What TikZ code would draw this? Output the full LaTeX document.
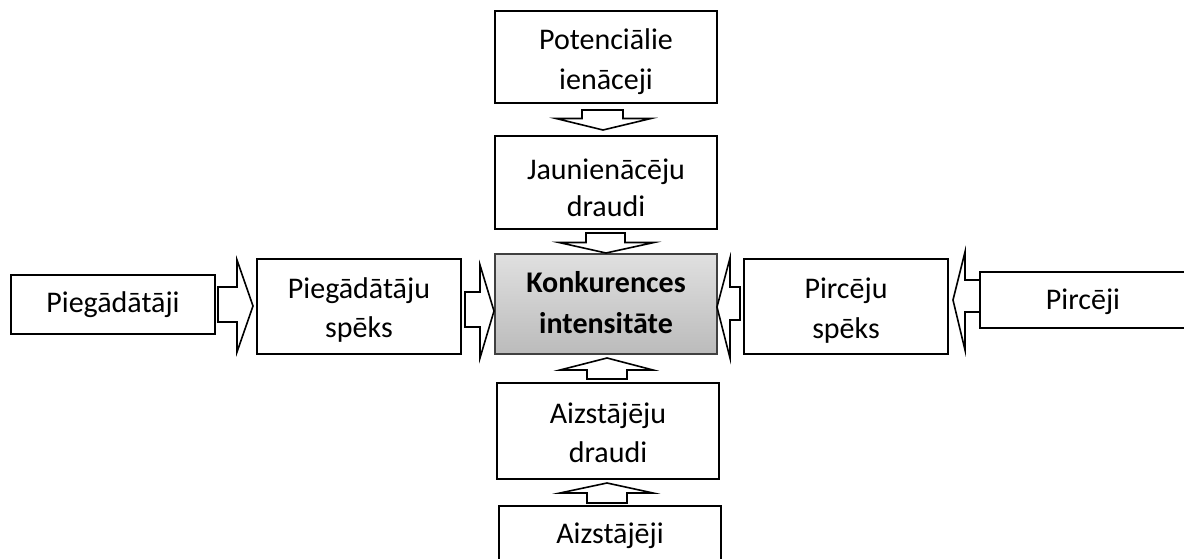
\documentclass[tikz,border=0pt]{standalone}
\usepackage{fontspec}
\setmainfont{Carlito}
\definecolor{ctop}{HTML}{E0E0E0}
\definecolor{cbot}{HTML}{BBBBBB}
\begin{document}
\begin{tikzpicture}[x=1pt,y=-1pt,
  box/.style={draw=black, line width=2.2pt, fill=white, rectangle, inner sep=0pt},
  blockarrow/.style={draw=black, line width=1.6pt, fill=white, line join=miter},
  txt/.style={anchor=base, inner sep=0pt, font=\fontsize{30}{40}\selectfont},
  btxt/.style={txt, font=\fontsize{30}{40}\selectfont\bfseries}]
\useasboundingbox (0,0) rectangle (1184,559);
\clip (0,0) rectangle (1184,559);
% boxes
\node[box, minimum width=222pt, minimum height=92pt] (pot) at (606,57) {};
\node[box, minimum width=222pt, minimum height=93pt] (jau) at (606,182.5) {};
\node[box, minimum width=222pt, minimum height=100pt, draw=black!75, line width=1.3pt, top color=ctop, bottom color=cbot] (kon) at (606,304) {};
\node[box, minimum width=204pt, minimum height=59pt] (pie) at (113,304.5) {};
\node[box, minimum width=204pt, minimum height=95pt] (pies) at (359,306.5) {};
\node[box, minimum width=204pt, minimum height=95pt] (pirs) at (846,306.5) {};
\node[box, minimum width=210pt, minimum height=56pt] (pir) at (1085,300) {};
\node[box, minimum width=222pt, minimum height=96pt] (aizd) at (608,431) {};
\node[box, minimum width=222pt, minimum height=74pt] (aiz) at (610,543) {};
% texts
\node[txt] (potA) at (606,50) {Potenciālie};
\node[txt] (potB) at (606,90) {ienāceji};
\node[txt] (jauA) at (606,179) {Jaunienācēju};
\node[txt] (jauB) at (606,216) {draudi};
\node[btxt] (konA) at (606,292) {Konkurences};
\node[btxt] (konB) at (606,333) {intensitāte};
\node[txt] (pieA) at (113,312) {Piegādātāji};
\node[txt] (piesA) at (359,298) {Piegādātāju};
\node[txt] (piesB) at (359,337) {spēks};
\node[txt] (pirsA) at (846,298) {Pircēju};
\node[txt] (pirsB) at (846,338) {spēks};
\node[txt] (pirA) at (1083,309) {Pircēji};
\node[txt] (aizdA) at (608,423) {Aizstājēju};
\node[txt] (aizdB) at (608,462) {draudi};
\node[txt] (aizA) at (610,543.5) {Aizstājēji};
% block arrows
\draw[blockarrow] (582,110) -- (623,110) -- (623,118.5) -- (651,118.5) -- (603,130) -- (556,118.5) -- (582,118.5) -- cycle;
\draw[blockarrow] (586,233) -- (625,233) -- (625,242.5) -- (654,242.5) -- (606,253) -- (559,242.5) -- (586,242.5) -- cycle;
\draw[blockarrow] (587,379) -- (627,379) -- (627,370) -- (653,370) -- (607,358) -- (560,370) -- (587,370) -- cycle;
\draw[blockarrow] (587,503) -- (627,503) -- (627,493) -- (653,493) -- (607,483) -- (560,493) -- (587,493) -- cycle;
\draw[blockarrow] (218,287) -- (237,287) -- (237,260) -- (253,306) -- (237,352) -- (237,322) -- (218,322) -- cycle;
\draw[blockarrow] (465,292) -- (480,292) -- (480,265) -- (494,311) -- (480,358) -- (480,327) -- (465,327) -- cycle;
\draw[blockarrow] (740,287) -- (730,287) -- (730,258) -- (717,307) -- (730,358) -- (730,320) -- (740,320) -- cycle;
\draw[blockarrow] (980,280) -- (965,280) -- (965,252) -- (953,300) -- (965,350) -- (965,312) -- (980,312) -- cycle;
\end{tikzpicture}
\end{document}
